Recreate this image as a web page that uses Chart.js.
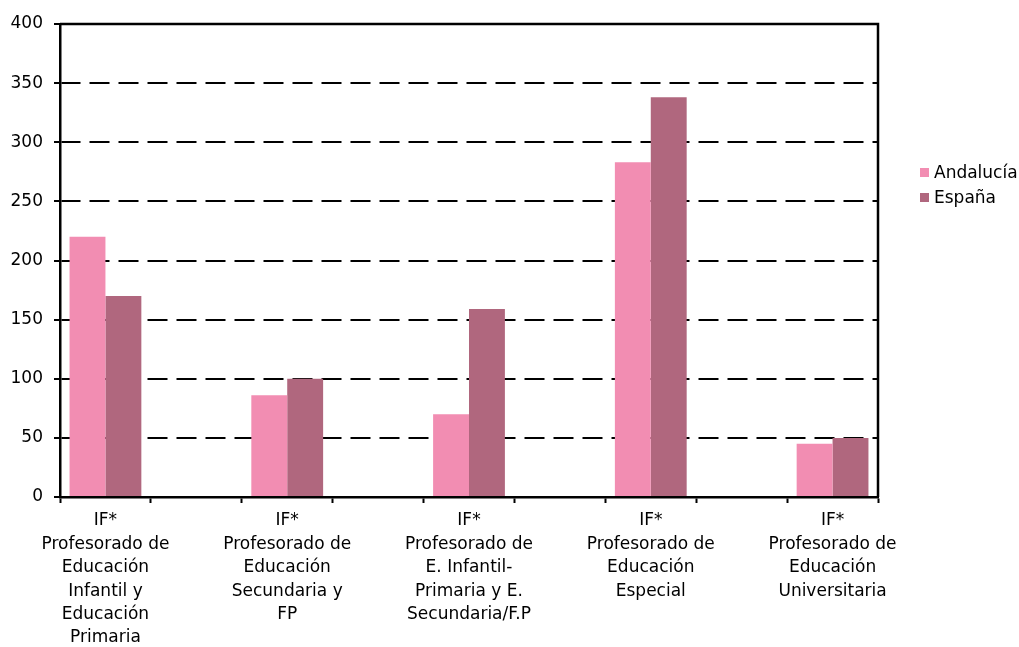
<!DOCTYPE html>
<html>
<head>
<meta charset="utf-8">
<script src="https://cdn.jsdelivr.net/npm/chart.js@4"></script>
<style>
  html, body { margin: 0; padding: 0; background: #fff; overflow: hidden; }
  #wrap { position: relative; width: 1019px; height: 647px; }
  #legend { position: absolute; left: 920px; top: 162px; font-family: "DejaVu Sans", sans-serif; font-size: 17px; color: #000; }
  #legend div { height: 25px; line-height: 20px; white-space: nowrap; }
  #legend span.box { display: inline-block; width: 9px; height: 9px; margin-right: 5px; vertical-align: 1px; }
</style>
</head>
<body>
<div id="wrap">
  <canvas id="chart" width="1019" height="647"></canvas>
  <div id="legend"></div>
</div>
<script>
// categorias (cada una ocupa una celda con hueco vacío entre ellas, como en el original)
const categories = [
  ['IF*', 'Profesorado de', 'Educación', 'Infantil y', 'Educación', 'Primaria'],
  ['IF*', 'Profesorado de', 'Educación', 'Secundaria y', 'FP'],
  ['IF*', 'Profesorado de', 'E. Infantil-', 'Primaria y E.', 'Secundaria/F.P'],
  ['IF*', 'Profesorado de', 'Educación', 'Especial'],
  ['IF*', 'Profesorado de', 'Educación', 'Universitaria']
];
const andalucia = [220, 86, 70, 283, 45];
const espana = [170, 100, 159, 338, 50];
const yTicks = [0, 50, 100, 150, 200, 250, 300, 350, 400];

const seriesNames = ['Andalucía', 'España'];
const seriesColors = ['#F28DB2', '#B0677E'];

// intercalar huecos vacíos
function spread(arr, empty) {
  const out = [];
  arr.forEach((v, i) => {
    out.push(v);
    if (i < arr.length - 1) out.push(empty);
  });
  return out;
}

const labels = spread(categories, '');

// marco superior y derecho
const framePlugin = {
  id: 'frame',
  afterDraw(chart) {
    const { ctx, chartArea } = chart;
    ctx.save();
    ctx.strokeStyle = '#000';
    ctx.lineWidth = 2.5;
    ctx.beginPath();
    ctx.moveTo(chartArea.left, chartArea.top);
    ctx.lineTo(chartArea.right, chartArea.top);
    ctx.lineTo(chartArea.right, chartArea.bottom);
    ctx.stroke();
    ctx.restore();
  }
};

const font = { family: '"DejaVu Sans", sans-serif', size: 17, lineHeight: 1.38 };

new Chart(document.getElementById('chart'), {
  type: 'bar',
  data: {
    labels,
    datasets: [
      { label: seriesNames[0], data: spread(andalucia, null), backgroundColor: seriesColors[0] },
      { label: seriesNames[1], data: spread(espana, null), backgroundColor: seriesColors[1] }
    ]
  },
  options: {
    responsive: false,
    animation: false,
    layout: { padding: { top: 24, right: 141, left: 0, bottom: 0 } },
    datasets: { bar: { categoryPercentage: 0.79, barPercentage: 1 } },
    plugins: { legend: { display: false }, tooltip: { enabled: false } },
    scales: {
      x: {
        grid: { display: true, drawOnChartArea: false, offset: true, tickLength: 6, tickWidth: 2, tickColor: '#000', color: '#000' },
        border: { display: true, color: '#000', width: 2.5 },
        ticks: { autoSkip: false, maxRotation: 0, minRotation: 0, color: '#000', font, padding: 6 },
        afterFit: s => { s.height = 150; }
      },
      y: {
        min: 0,
        max: 400,
        afterBuildTicks: s => { s.ticks = yTicks.map(v => ({ value: v })); },
        grid: { color: '#000', lineWidth: 2, tickLength: 6, tickWidth: 2, tickColor: '#000', tickBorderDash: [] },
        border: { display: true, color: '#000', width: 2.5, dash: [20, 9], dashOffset: 1 },
        ticks: { color: '#000', font, padding: 11 },
        afterFit: s => { s.width = 60; }
      }
    }
  },
  plugins: [framePlugin]
});

const legend = document.getElementById('legend');
seriesNames.forEach((name, i) => {
  const row = document.createElement('div');
  row.innerHTML = `<span class="box" style="background:${seriesColors[i]}"></span>${name}`;
  legend.appendChild(row);
});
</script>
</body>
</html>
